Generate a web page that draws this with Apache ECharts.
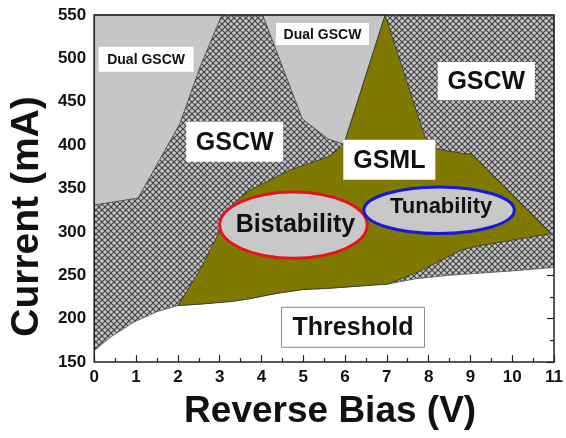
<!DOCTYPE html>
<html>
<head>
<meta charset="utf-8">
<script src="https://cdn.jsdelivr.net/npm/echarts@6/dist/echarts.min.js"></script>
<style>
  html, body { margin: 0; padding: 0; background: #fff; }
  #chart { width: 566px; height: 438px; }
</style>
</head>
<body>
<div id="chart"></div>
<script>
// Operating regimes of the laser vs. reverse bias (V) and injection current (mA)

const xTicks = [0, 1, 2, 3, 4, 5, 6, 7, 8, 9, 10, 11];
const yTicks = [150, 200, 250, 300, 350, 400, 450, 500, 550];

// Lasing threshold current vs. reverse bias
const thresholdCurve = [
  [0, 163], [0.4, 179], [0.95, 196], [1.5, 208], [2.0, 215], [2.6, 217],
  [3.32, 220], [3.72, 223], [4.35, 229], [4.98, 233.5], [5.62, 235],
  [7.04, 240], [7.7, 246], [8.5, 250], [9.1, 252], [10.0, 255], [11, 259]
];

// Dual-wavelength ground-state CW regions
const dualGscwLeft = [
  [0, 331], [1.05, 339], [2.05, 425], [2.53, 490], [3.05, 550], [0, 550]
];
const dualGscwMid = [
  [4.03, 550], [4.98, 430], [5.6, 407], [5.97, 401], [6.96, 550]
];

// Ground-state mode-locking region
const gsmlRegion = [
  [2.0, 215], [2.53, 256], [2.93, 294], [3.32, 333], [3.72, 348], [4.67, 371],
  [5.62, 387], [5.97, 400], [6.96, 550], [7.91, 409.5], [8.15, 396],
  [8.86, 390], [9.02, 390], [10.92, 298], [9.1, 283], [8.78, 279],
  [7.76, 254], [7.04, 240], [5.62, 235], [4.98, 233.5], [4.35, 229],
  [3.72, 223], [3.32, 220], [2.6, 217]
];

// Short green edge along the top of the GSCW wedge
const topEdge = [[3.3, 550], [4.0, 550]];

// Bistability and tunability ranges: [xMin, xMax, yMin, yMax]
const bistabilityRange = [3.0, 6.53, 269.6, 346.1];
const tunabilityRange = [6.45, 10.05, 298.1, 351.8];

const regionNames = ['Dual GSCW', 'Dual GSCW', 'GSCW', 'GSCW', 'GSML', 'Threshold'];

// Label box layout (center in axis units, box size in px, font size)
const labelLayout = [
  { at: [1.24, 499], w: 95, h: 25, size: 14 },
  { at: [5.46, 528], w: 93, h: 22, size: 14 },
  { at: [3.36, 404], w: 97, h: 40, size: 25 },
  { at: [9.38, 474], w: 97, h: 38, size: 25 },
  { at: [7.06, 383], w: 92, h: 40, size: 25 },
  { at: [6.19, 190], w: 143, h: 40, size: 25, border: true }
];

const FONT = '"Liberation Sans", Arial, Helvetica, sans-serif';

// Cross-hatch tile
function makeHatch() {
  const s = 6;
  const c = document.createElement('canvas');
  c.width = s; c.height = s;
  const g = c.getContext('2d');
  g.fillStyle = '#c4c4c4';
  g.fillRect(0, 0, s, s);
  g.strokeStyle = '#454545';
  g.lineWidth = 1.2;
  for (const k of [-s, 0, s]) {
    g.beginPath(); g.moveTo(k - 1, -1); g.lineTo(k + s + 1, s + 1); g.stroke();
    g.beginPath(); g.moveTo(k + s + 1, -1); g.lineTo(k - 1, s + 1); g.stroke();
  }
  return c;
}
const hatch = { type: 'pattern', image: makeHatch(), repeat: 'repeat' };

// Above-threshold area (everything up to the top of the plot)
const aboveThreshold = thresholdCurve.concat([[11, 550], [0, 550]]);

function polygonSeries(name, pts, style, z) {
  return {
    type: 'custom', name, z, silent: true, animation: false,
    xAxisIndex: 0, yAxisIndex: 0,
    data: pts, encode: { x: 0, y: 1 },
    renderItem: (params, api) => params.dataIndex === 0
      ? { type: 'polygon', shape: { points: pts.map(p => api.coord(p)) }, style: Object.assign({}, style) }
      : null
  };
}

function ellipseSeries(name, range, text, stroke, textSize, dy, z) {
  return {
    type: 'custom', name, z, silent: true, animation: false,
    xAxisIndex: 0, yAxisIndex: 0,
    data: [range], encode: { x: [0, 1], y: [2, 3] },
    renderItem: (params, api) => {
      const a = api.coord([range[0], range[2]]);
      const b = api.coord([range[1], range[3]]);
      const cx = (a[0] + b[0]) / 2, cy = (a[1] + b[1]) / 2;
      return {
        type: 'group', children: [
          { type: 'ellipse', shape: { cx, cy, rx: Math.abs(b[0] - a[0]) / 2, ry: Math.abs(b[1] - a[1]) / 2 },
            style: { fill: '#c8c8c8', stroke, lineWidth: 3 } },
          { type: 'text', style: { text, x: cx + 2, y: cy + dy, align: 'center', verticalAlign: 'middle',
            fill: '#111', fontSize: textSize, fontWeight: 'bold', fontFamily: FONT } }
        ]
      };
    }
  };
}

const labelSeries = {
  type: 'custom', name: 'labels', z: 6, silent: true, animation: false,
  xAxisIndex: 0, yAxisIndex: 0,
  data: labelLayout.map(l => l.at), encode: { x: 0, y: 1 },
  renderItem: (params, api) => {
    const l = labelLayout[params.dataIndex];
    const p = api.coord(l.at);
    return {
      type: 'group', children: [
        { type: 'rect', shape: { x: p[0] - l.w / 2, y: p[1] - l.h / 2, width: l.w, height: l.h },
          style: { fill: '#fff', stroke: l.border ? '#8a8a8a' : null, lineWidth: 1 } },
        { type: 'text', style: { text: regionNames[params.dataIndex], x: p[0], y: p[1] + 1,
          align: 'center', verticalAlign: 'middle', fill: '#111',
          fontSize: l.size, fontWeight: 'bold', fontFamily: FONT } }
      ]
    };
  }
};

const tickLine = { color: '#222', width: 1.2 };
const labelStyle = { color: '#111', fontSize: 17, fontWeight: 'bold', fontFamily: FONT };

const chart = echarts.init(document.getElementById('chart'), null, { renderer: 'canvas' });
chart.setOption({
  animation: false,
  backgroundColor: '#fff',
  // plot frame drawn by the grid, above the filled regions
  grid: {
    left: 93, right: 9, top: 15, bottom: 76, containLabel: false,
    show: true, z: 10, backgroundColor: 'transparent', borderColor: '#222', borderWidth: 1.5
  },
  xAxis: {
    type: 'value', min: xTicks[0], max: xTicks[xTicks.length - 1], interval: 1,
    position: 'bottom', z: 5,
    axisLine: { show: false },
    axisTick: { show: true, inside: true, length: 7, lineStyle: tickLine },
    minorTick: { show: true, splitNumber: 2, length: 4, lineStyle: tickLine },
    axisLabel: Object.assign({ margin: 7, formatter: v => xTicks.includes(v) ? String(v) : '' }, labelStyle),
    splitLine: { show: false },
    name: 'Reverse Bias (V)', nameLocation: 'middle', nameGap: 31,
    nameTextStyle: { color: '#111', fontSize: 37, fontWeight: 'bold', fontFamily: FONT, padding: [0, 0, 0, 12] }
  },
  yAxis: [
    {
      type: 'value', min: yTicks[0], max: yTicks[yTicks.length - 1], interval: 50,
      position: 'left', z: 5,
      axisLine: { show: false }, axisTick: { show: false },
      axisLabel: Object.assign({ margin: 8, formatter: v => yTicks.includes(v) ? String(v) : '' }, labelStyle),
      splitLine: { show: false },
      name: 'Current (mA)', nameLocation: 'middle', nameGap: 46, nameRotate: 90,
      nameTextStyle: { color: '#111', fontSize: 39, fontWeight: 'bold', fontFamily: FONT, padding: [0, 56, 0, 0] }
    },
    {
      type: 'value', min: 150, max: 550, interval: 50, position: 'right', z: 0,
      axisLine: { show: false },
      axisTick: { show: true, inside: true, length: 7, lineStyle: tickLine },
      minorTick: { show: true, splitNumber: 2, length: 4, lineStyle: tickLine },
      axisLabel: { show: false }, splitLine: { show: false }
    }
  ],
  series: [
    polygonSeries('GSCW', aboveThreshold, { fill: hatch, stroke: '#555', lineWidth: 0.8 }, 1),
    polygonSeries('Dual GSCW left', dualGscwLeft, { fill: '#c6c6c6', stroke: '#444', lineWidth: 0.8 }, 2),
    polygonSeries('Dual GSCW mid', dualGscwMid, { fill: '#c6c6c6', stroke: '#444', lineWidth: 0.8 }, 2),
    polygonSeries('GSML', gsmlRegion, { fill: '#807900', stroke: '#333', lineWidth: 0.8 }, 3),
    {
      type: 'line', name: 'edge', z: 3, silent: true, animation: false, data: topEdge,
      showSymbol: false, lineStyle: { color: '#5ea05e', width: 2 }
    },
    ellipseSeries('Bistability', bistabilityRange, 'Bistability', '#e5141c', 25, 0, 4),
    ellipseSeries('Tunability', tunabilityRange, 'Tunability', '#1818d8', 22, -3, 4),
    labelSeries
  ]
});
</script>
</body>
</html>
